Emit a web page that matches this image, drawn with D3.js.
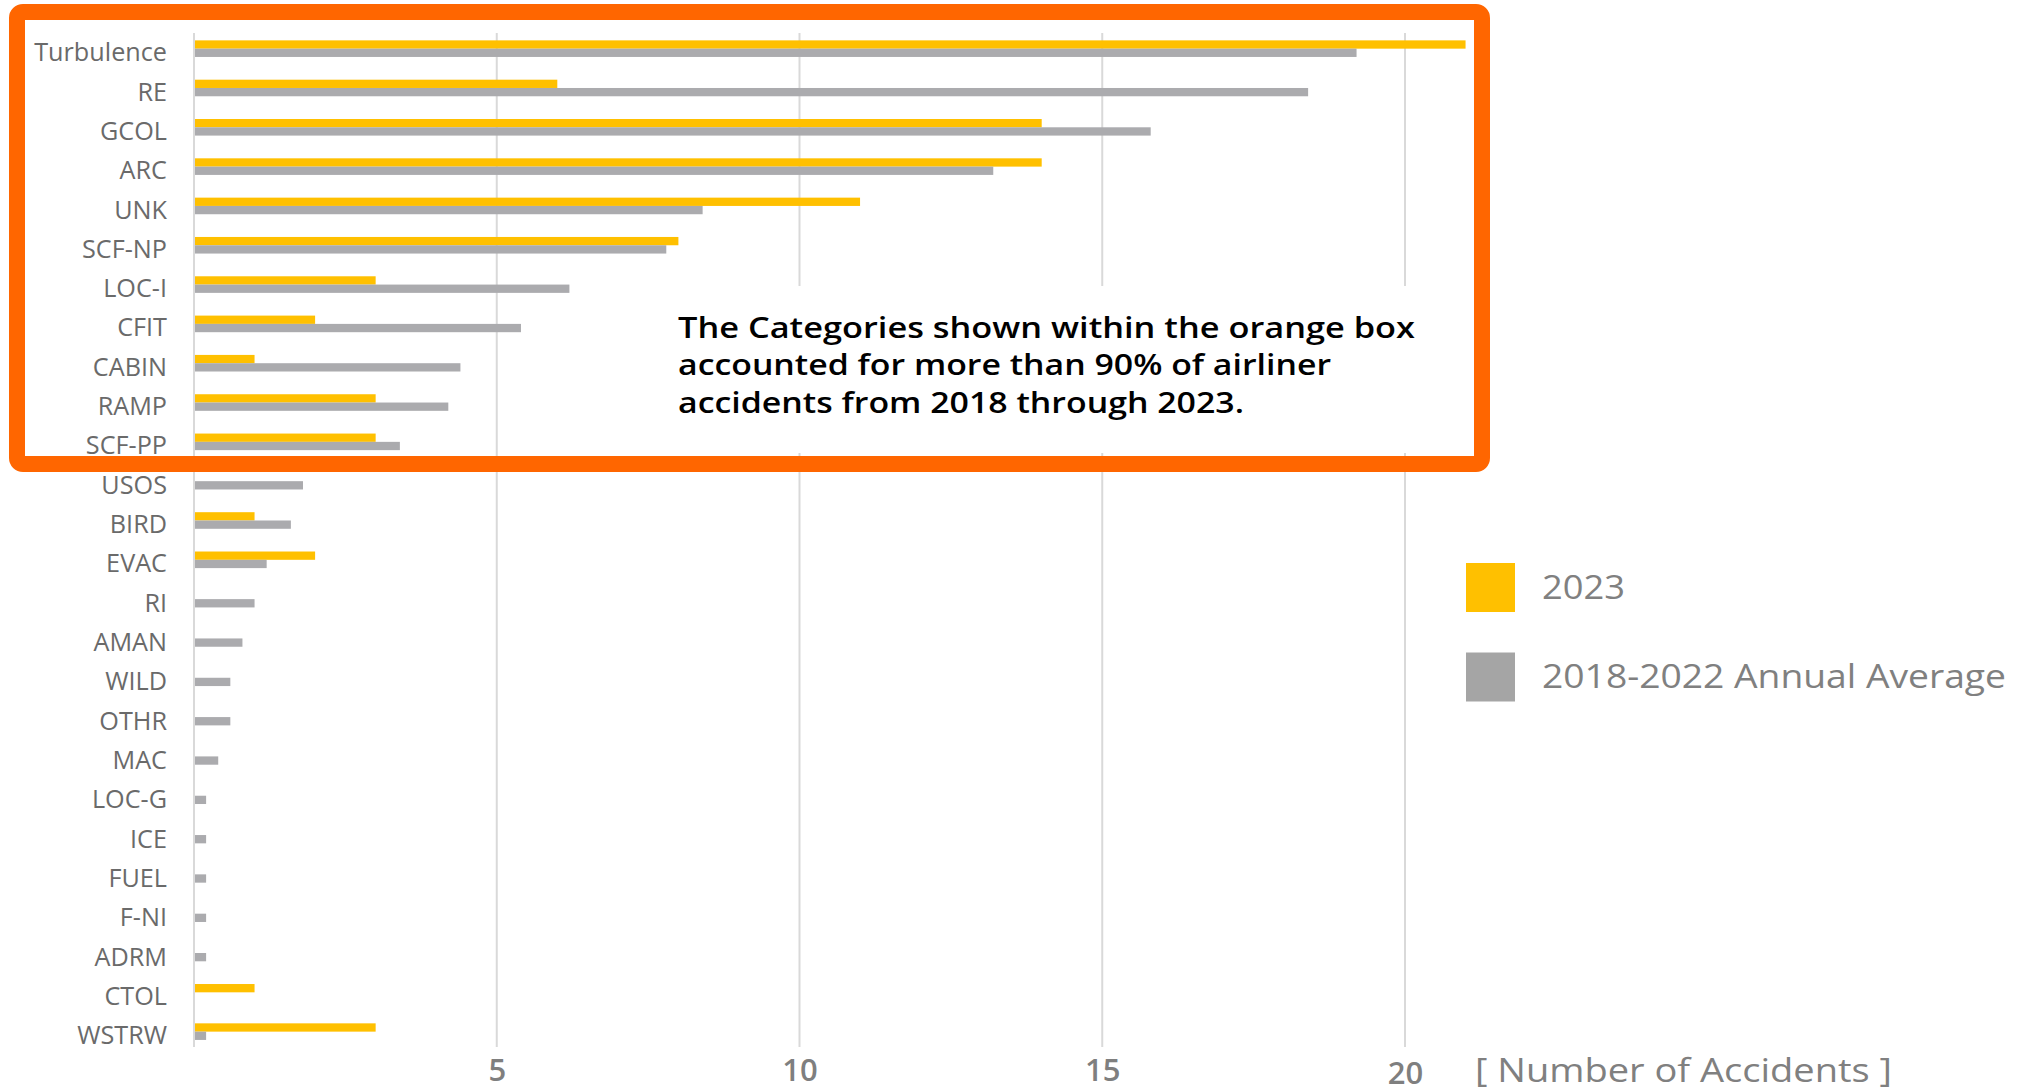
<!DOCTYPE html>
<html><head><meta charset="utf-8">
<script src="https://cdn.jsdelivr.net/npm/d3@7"></script>
<style>body{margin:0;background:#fff;overflow:hidden}</style>
</head><body><svg id="c" width="2017" height="1092"></svg>
<script>
const categories = ["Turbulence","RE","GCOL","ARC","UNK","SCF-NP","LOC-I","CFIT","CABIN","RAMP","SCF-PP","USOS","BIRD","EVAC","RI","AMAN","WILD","OTHR","MAC","LOC-G","ICE","FUEL","F-NI","ADRM","CTOL","WSTRW"];
const values2023 = [21,6,14,14,11,8,3,2,1,3,3,0,1,2,0,0,0,0,0,0,0,0,0,0,1,3];
const valuesAvg = [19.2,18.4,15.8,13.2,8.4,7.8,6.2,5.4,4.4,4.2,3.4,1.8,1.6,1.2,1.0,0.8,0.6,0.6,0.4,0.2,0.2,0.2,0.2,0.2,0,0.2];
const seriesNames = ["2023","2018-2022 Annual Average"];
const seriesColors = ["#FFC000","#ABABAE"];
const legendColors = ["#FFC000","#A5A5A5"];
const xTicks = [5,10,15,20];
const axisTitle = "[ Number of Accidents ]";
const noteLines = ["The Categories shown within the orange box","accounted for more than 90% of airliner","accidents from 2018 through 2023."];

const svg = d3.select("#c");
const x = d3.scaleLinear().domain([0,20]).range([194,1405]);
const y = d3.scaleBand().domain(categories).range([29,1051.3]).paddingInner(0.578).paddingOuter(0.289);
const sub = d3.scaleBand().domain(seriesNames).range([0,y.bandwidth()]);
const gridTop = 33, gridBottom = 1047;

// gridlines
svg.append("g").selectAll("line").data([0].concat(xTicks)).join("line")
  .attr("x1",d=>x(d)).attr("x2",d=>x(d)).attr("y1",gridTop).attr("y2",gridBottom)
  .attr("stroke","#d9d9d9").attr("stroke-width",2);

// bars
const rows = categories.map((c,i)=>({c, vals:[values2023[i],valuesAvg[i]]}));
const rg = svg.append("g").selectAll("g").data(rows).join("g")
  .attr("transform",d=>`translate(0,${y(d.c)})`);
rg.selectAll("rect").data(d=>d.vals.map((v,j)=>({v,s:seriesNames[j],j}))).join("rect")
  .attr("x",x(0)+1).attr("y",d=>sub(d.s)).attr("height",sub.bandwidth())
  .attr("width",d=>Math.max(0,x(d.v)-x(0)-1)).attr("fill",d=>seriesColors[d.j]);

// category labels
const lg = svg.append("g").attr("transform","translate(167,0) scale(0.97,1)");
lg.selectAll("text").data(categories).join("text")
  .attr("x",0).attr("y",d=>y(d)+y.bandwidth()/2+3.5).attr("dy","0.35em")
  .attr("text-anchor","end").attr("font-family","'Open Sans', sans-serif")
  .attr("font-size",26).attr("fill","#6a6a6a").text(d=>d);

// x axis ticks
const ax = svg.append("g").attr("transform",`translate(0,1070)`)
  .call(d3.axisBottom(x).tickValues(xTicks).tickSize(0).tickPadding(0));
ax.select(".domain").remove();
ax.selectAll("text").attr("font-family","'Open Sans', sans-serif").attr("font-size",31)
  .attr("font-weight",600).attr("fill","#7f7f7f").attr("y",0).attr("dy","0.35em")
  .attr("transform",d=>d===20?"translate(0,3)":null);

// axis title
svg.append("text").attr("x",1475).attr("y",1071).attr("dy","0.35em")
  .attr("font-family","'Open Sans', sans-serif").attr("font-size",32).attr("font-weight",500).attr("fill","#808080")
  .attr("textLength",417).attr("lengthAdjust","spacingAndGlyphs").text(axisTitle);

// legend
const legY = [587.5, 677];
const leg = svg.append("g").selectAll("g").data(seriesNames).join("g")
  .attr("transform",(d,i)=>`translate(1466,${legY[i]})`);
leg.append("rect").attr("x",0).attr("y",-24.5).attr("width",49).attr("height",49)
  .attr("fill",(d,i)=>legendColors[i]);
leg.append("text").attr("x",76).attr("y",0).attr("dy","0.35em")
  .attr("font-family","'Open Sans', sans-serif").attr("font-size",32).attr("font-weight",500).attr("fill","#808080")
  .attr("textLength",(d,i)=>[83,464][i]).attr("lengthAdjust","spacingAndGlyphs").text(d=>d);

// annotation with white background
svg.append("rect").attr("x",665).attr("y",286).attr("width",805).attr("height",167).attr("fill","#fff");
const noteWidths = [737,653,566];
svg.append("g").selectAll("text").data(noteLines).join("text")
  .attr("x",678).attr("y",(d,i)=>328+i*37.5).attr("dy","0.35em")
  .attr("font-family","'Open Sans', sans-serif").attr("font-weight",600).attr("font-size",28)
  .attr("fill","#000").attr("textLength",(d,i)=>noteWidths[i]).attr("lengthAdjust","spacingAndGlyphs")
  .text(d=>d);

// orange box
svg.append("rect").attr("x",17).attr("y",12).attr("width",1465).attr("height",452)
  .attr("rx",6).attr("fill","none").attr("stroke","#FF6600").attr("stroke-width",16);
</script></body></html>
